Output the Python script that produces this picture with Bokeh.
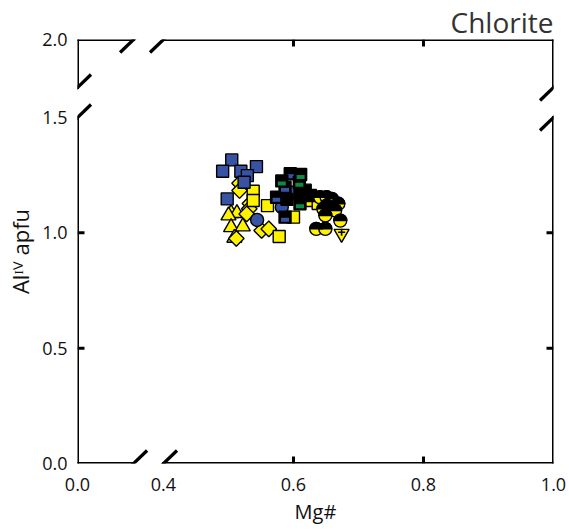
import numpy as np
from bokeh.plotting import figure
from bokeh.models import Range1d, FixedTicker, CustomJSTickFormatter, Arrow, ColumnDataSource
from bokeh.embed import file_html
from bokeh.resources import INLINE

# ---------------- data (Mg#, Al(IV) apfu) ----------------
blue_sq_x = [0.505, 0.491, 0.519, 0.543, 0.529, 0.524, 0.498, 0.599]
blue_sq_y = [1.316, 1.267, 1.267, 1.287, 1.248, 1.219, 1.147, 1.176]

blue_ci_x = [0.544, 0.582]
blue_ci_y = [1.056, 1.111]

yel_dia_x = [0.517, 0.517, 0.533, 0.532, 0.528, 0.551, 0.562, 0.512]
yel_dia_y = [1.215, 1.183, 1.127, 1.104, 1.082, 1.010, 1.017, 0.975]

yel_sq_x = [0.538, 0.538, 0.560, 0.600, 0.578, 0.623, 0.638]
yel_sq_y = [1.180, 1.140, 1.118, 1.068, 0.984, 1.140, 1.127]

yel_tri_x = [0.504, 0.513, 0.500, 0.504, 0.522, 0.509]
yel_tri_y = [1.085, 1.085, 1.075, 1.024, 1.027, 0.978]

bk_blue_x = [0.595, 0.574, 0.587, 0.587, 0.618]
bk_blue_y = [1.256, 1.154, 1.198, 1.068, 1.185]

bk_green_x = [0.611, 0.609, 0.582, 0.610]
bk_green_y = [1.253, 1.219, 1.225, 1.126]

bk_x = [0.610, 0.626, 0.590]
bk_y = [1.170, 1.162, 1.145]

half_x = [0.641, 0.651, 0.659, 0.669, 0.651, 0.646, 0.664, 0.672, 0.649, 0.635, 0.649]
half_y = [1.154, 1.154, 1.147, 1.126, 1.118, 1.104, 1.097, 1.053, 1.075, 1.017, 1.017]

inv_x = [0.674]
inv_y = [0.996]

# ---------------- axes description ----------------
X_START, X_END = 0.2677, 1.0
Y_START, Y_END = 0.0, 1.838
X_TICKS = [X_START, 0.4, 0.6, 0.8, 1.0]
X_LABELS = ["0.0", "0.4", "0.6", "0.8", "1.0"]
Y_TICKS = [0.0, 0.5, 1.0, 1.5, Y_END]
Y_LABELS = ["0.0", "0.5", "1.0", "1.5", "2.0"]
X_MARKS = [0.6, 0.8]
Y_MARKS = [0.5, 1.0]
X_BREAK = (0.354, 0.4)
Y_BREAK = (1.5, 1.63)

BLUE = "#3953A4"
YELLOW = "#FFF200"
GREEN = "#0E8A47"
FONT = "Open Sans"

FRAME_W, FRAME_H = 476, 424
PX = FRAME_W / (X_END - X_START)
PY = FRAME_H / (Y_END - Y_START)

p = figure(frame_width=FRAME_W, frame_height=FRAME_H,
           x_range=Range1d(X_START, X_END), y_range=Range1d(Y_START, Y_END),
           output_backend="svg", toolbar_location=None,
           min_border_left=77, min_border_top=39, min_border_right=14, min_border_bottom=30)
p.outline_line_color = None
p.grid.visible = False

# title
p.title.text = "Chlorite"
p.title.align = "right"
p.title.text_font = FONT
p.title.text_font_size = "28px"
p.title.text_font_style = "normal"
p.title.text_color = "#333333"
p.title.standoff = -2

fmt_code = """
let best = 0, d = 1e9;
for (let i = 0; i < tvals.length; i++) {
  const dd = Math.abs(tvals[i] - tick);
  if (dd < d) { d = dd; best = i; }
}
return tlabels[best];
"""
for ax, ticks, labels in ((p.xaxis[0], X_TICKS, X_LABELS), (p.yaxis[0], Y_TICKS, Y_LABELS)):
    ax.ticker = FixedTicker(ticks=ticks)
    ax.formatter = CustomJSTickFormatter(args=dict(tvals=ticks, tlabels=labels), code=fmt_code)
    ax.axis_line_color = None
    ax.major_tick_line_color = None
    ax.minor_tick_line_color = None
    ax.major_tick_in = 0
    ax.major_tick_out = 0
    ax.major_label_text_font = FONT
    ax.major_label_text_font_size = "18px"
    ax.major_label_text_color = "#111111"
    ax.axis_label_text_font = FONT
    ax.axis_label_text_font_style = "normal"
    ax.axis_label_text_color = "#111111"
p.xaxis.major_label_standoff = 14
p.yaxis.major_label_standoff = 10
p.xaxis.axis_label = "Mg#"
p.xaxis.axis_label_text_font_size = "20px"
p.xaxis.axis_label_standoff = 4
p.yaxis.axis_label = "Al\u1d35\u2c7d apfu"
p.yaxis.axis_label_text_font_size = "22px"
p.yaxis.axis_label_standoff = 4

# ---------------- frame with breaks ----------------
ex0 = [X_START, X_BREAK[1], X_START, X_BREAK[1], X_START, X_START, X_END, X_END]
ey0 = [Y_START, Y_START, Y_END, Y_END, Y_START, Y_BREAK[1], Y_START, Y_BREAK[1]]
ex1 = [X_BREAK[0], X_END, X_BREAK[0], X_END, X_START, X_START, X_END, X_END]
ey1 = [Y_START, Y_START, Y_END, Y_END, Y_BREAK[0], Y_END, Y_BREAK[0], Y_END]
edges = ColumnDataSource(dict(x0=ex0, y0=ey0, x1=ex1, y1=ey1))
p.add_layout(Arrow(end=None, source=edges, x_start="x0", y_start="y0", x_end="x1", y_end="y1",
                   line_color="black", line_width=3, line_cap="square"))

# inward tick marks
TL = 7
tx0, ty0, tx1, ty1 = [], [], [], []
for xv in X_MARKS:
    tx0 += [xv, xv]; tx1 += [xv, xv]
    ty0 += [Y_START, Y_END]; ty1 += [Y_START + TL / PY, Y_END - TL / PY]
for yv in Y_MARKS:
    ty0 += [yv, yv]; ty1 += [yv, yv]
    tx0 += [X_START, X_END]; tx1 += [X_START + TL / PX, X_END - TL / PX]
p.add_layout(Arrow(end=None, source=ColumnDataSource(dict(x0=tx0, y0=ty0, x1=tx1, y1=ty1)),
                   x_start="x0", y_start="y0", x_end="x1", y_end="y1",
                   line_color="black", line_width=3))

# break slashes
cx, cy = [], []
for b in X_BREAK:
    cx += [b, b]; cy += [Y_START, Y_END]
for b in Y_BREAK:
    cx += [X_START, X_END]; cy += [b, b]
hx, hy = 13.5 / PX, 13 / PY
sl = ColumnDataSource(dict(x0=[c - hx for c in cx], y0=[c - hy for c in cy],
                           x1=[c + hx for c in cx], y1=[c + hy for c in cy]))
p.add_layout(Arrow(end=None, source=sl, x_start="x0", y_start="y0", x_end="x1", y_end="y1",
                   line_color="black", line_width=3.3))

# ---------------- markers ----------------
LW = 1.4
p.scatter(yel_tri_x, yel_tri_y, marker="triangle", size=15, fill_color=YELLOW, line_color="black", line_width=LW)
p.scatter(yel_dia_x, yel_dia_y, marker="square", angle=np.pi / 4, size=11, fill_color=YELLOW, line_color="black", line_width=LW)
p.scatter(yel_sq_x, yel_sq_y, marker="square", size=12, fill_color=YELLOW, line_color="black", line_width=LW)
p.scatter(blue_ci_x, blue_ci_y, marker="circle", size=13, fill_color=BLUE, line_color="black", line_width=LW)
p.scatter(blue_sq_x, blue_sq_y, marker="square", size=12, fill_color=BLUE, line_color="black", line_width=LW)

for xs, ys, col in ((bk_blue_x, bk_blue_y, BLUE), (bk_green_x, bk_green_y, GREEN)):
    p.scatter(xs, ys, marker="square", size=12, fill_color="black", line_color="black", line_width=LW)
    p.rect(xs, [v - 2.5 / PY for v in ys], width=8, height=4, width_units="screen", height_units="screen",
           fill_color=col, line_color=None)
p.scatter(bk_x, bk_y, marker="square", size=12, fill_color="black", line_color="black", line_width=LW)

p.scatter(half_x, half_y, marker="circle", size=13, fill_color=YELLOW, line_color="black", line_width=LW)
p.wedge(half_x, half_y, radius=6.5, radius_units="screen", start_angle=0, end_angle=np.pi,
        fill_color="black", line_color="black", line_width=LW)

p.scatter(inv_x, inv_y, marker="inverted_triangle", size=15, fill_color=YELLOW, line_color="black", line_width=LW)
p.scatter(inv_x, [v + 1.5 / PY for v in inv_y], marker="cross", size=7, line_color="black", line_width=1.6)

open("out.html", "w").write(file_html(p, INLINE))
